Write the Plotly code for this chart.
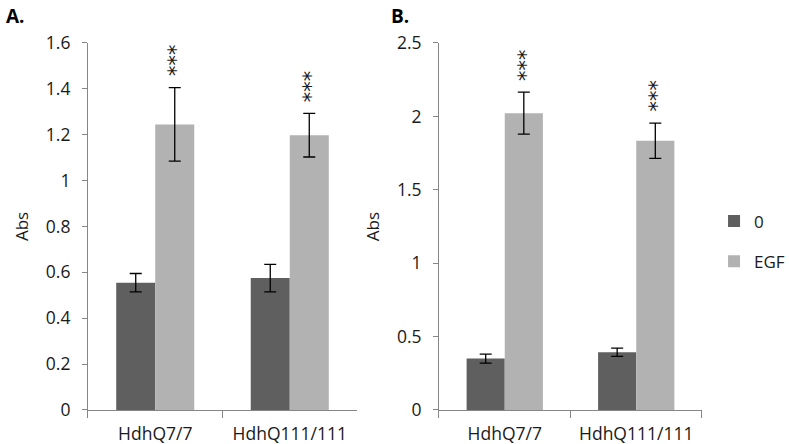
import plotly.graph_objects as go

categories = ["HdhQ7/7", "HdhQ111/111"]
a_ctrl = [0.555, 0.575]
a_ctrl_err = [0.04, 0.06]
a_egf = [1.245, 1.198]
a_egf_err = [0.16, 0.095]
b_ctrl = [0.35, 0.393]
b_ctrl_err = [0.031, 0.028]
b_egf = [2.022, 1.834]
b_egf_err = [0.143, 0.12]
sig_labels = ["***", "***"]

DARK = "#5f5f5f"
LIGHT = "#b2b2b2"
FONT = "Open Sans"
TXT = "#1a1a1a"

fig = go.Figure()

def add_bars(x_ax, y_ax, ctrl, ctrl_err, egf, egf_err, show):
    fig.add_trace(go.Bar(x=categories, y=ctrl, name="0", marker_color=DARK,
                         marker_line_width=0, showlegend=show, legendgroup="0",
                         error_y=dict(type="data", array=ctrl_err, color="black",
                                      thickness=1.3, width=6),
                         xaxis=x_ax, yaxis=y_ax))
    fig.add_trace(go.Bar(x=categories, y=egf, name="EGF", marker_color=LIGHT,
                         marker_line_width=0, showlegend=show, legendgroup="EGF",
                         error_y=dict(type="data", array=egf_err, color="black",
                                      thickness=1.3, width=6),
                         xaxis=x_ax, yaxis=y_ax))

add_bars("x", "y", a_ctrl, a_ctrl_err, a_egf, a_egf_err, True)
add_bars("x2", "y2", b_ctrl, b_ctrl_err, b_egf, b_egf_err, False)

annotations = []
for xref, yref, vals, errs in [("x", "y", a_egf, a_egf_err), ("x2", "y2", b_egf, b_egf_err)]:
    for i, c in enumerate(categories):
        annotations.append(dict(
            x=c, y=vals[i] + errs[i], xref=xref, yref=yref,
            text=sig_labels[i], showarrow=False, textangle=90,
            xanchor="center", yanchor="bottom", xshift=13, yshift=9,
            font=dict(family="DejaVu Sans", size=21, color=TXT)))

annotations.append(dict(x=0.005, y=1.0, xref="paper", yref="paper", text="<b>A.</b>",
                        showarrow=False, xanchor="left", yanchor="top", yshift=-1,
                        font=dict(family=FONT, size=19, color="black")))
annotations.append(dict(x=0.493, y=1.0, xref="paper", yref="paper", text="<b>B.</b>",
                        showarrow=False, xanchor="left", yanchor="top", yshift=-1,
                        font=dict(family=FONT, size=19, color="black")))

axis_common = dict(showline=True, linecolor="#868686", linewidth=1, showgrid=False,
                   zeroline=False, ticks="outside", tickcolor="#868686", automargin=False,
                   tickfont=dict(family=FONT, size=17.5, color=TXT))

fig.update_layout(
    width=789, height=444,
    margin=dict(l=0, r=0, t=0, b=0, autoexpand=False),
    plot_bgcolor="white", paper_bgcolor="white",
    barmode="group", bargap=0.42, bargroupgap=0,
    font=dict(family=FONT, size=17.5, color=TXT),
    xaxis=dict(domain=[0.1115, 0.4525], anchor="y", tickson="boundaries", ticklen=7,
               ticklabelstandoff=8, **axis_common),
    yaxis=dict(domain=[0.0766, 0.9032], anchor="x", range=[0, 1.6], dtick=0.2,
               tickformat="~g", ticklabelstandoff=8, ticklen=5,
               title=dict(text="Abs", font=dict(family=FONT, size=17, color=TXT), standoff=12),
               **axis_common),
    xaxis2=dict(domain=[0.5564, 0.8897], anchor="y2", tickson="boundaries", ticklen=7,
                ticklabelstandoff=8, **axis_common),
    yaxis2=dict(domain=[0.0766, 0.9032], anchor="x2", range=[0, 2.5], dtick=0.5,
                tickformat="~g", ticklabelstandoff=8, ticklen=5,
                title=dict(text="Abs", font=dict(family=FONT, size=17, color=TXT), standoff=12),
                **axis_common),
    legend=dict(x=0.905, y=0.456, xanchor="left", yanchor="middle",
                font=dict(family=FONT, size=17, color=TXT),
                itemwidth=30, tracegroupgap=15, bgcolor="rgba(0,0,0,0)"),
    annotations=annotations,
)

fig.write_html("out.html", config={"displayModeBar": False},
               post_script="document.body.style.margin='0';")
